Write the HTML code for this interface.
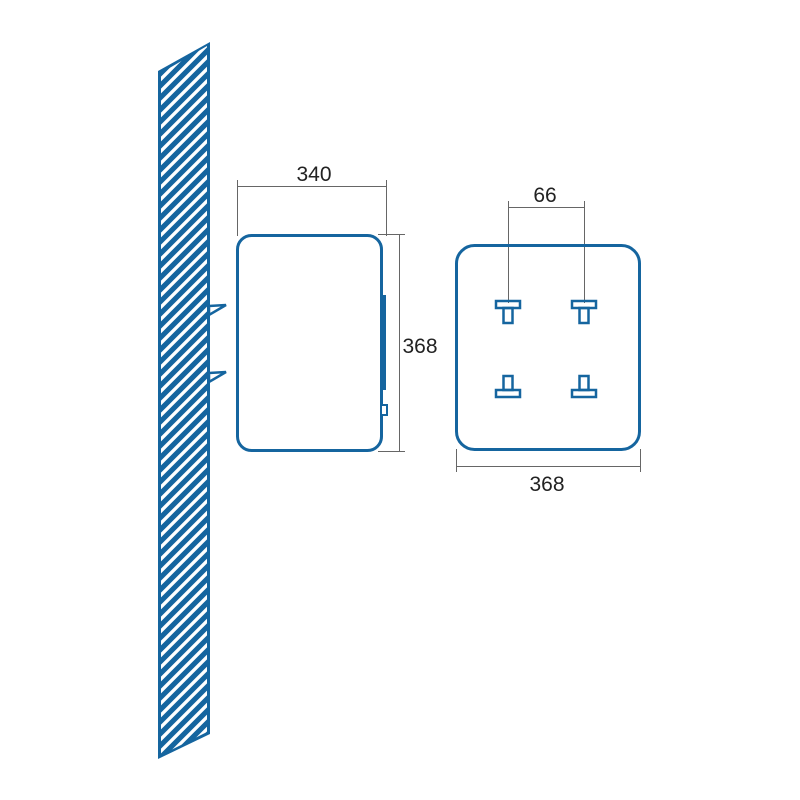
<!DOCTYPE html>
<html><head><style>html,body{margin:0;padding:0;background:#fff;}svg{display:block}</style></head>
<body>
<svg width="800" height="800" viewBox="0 0 800 800" xmlns="http://www.w3.org/2000/svg">
<defs>
<clipPath id="w"><polygon points="161,73 207,46 207,732 161,755"/></clipPath>
</defs>
<polygon points="158,71 210,42 210,734 158,759" fill="#15659f"/>
<g clip-path="url(#w)" stroke="#fff" stroke-width="3.3" fill="none">
<path d="M150,90 l70,-70 M150,102 l70,-70 M150,114 l70,-70 M150,126 l70,-70 M150,138 l70,-70 M150,150 l70,-70 M150,162 l70,-70 M150,174 l70,-70 M150,186 l70,-70 M150,198 l70,-70 M150,210 l70,-70 M150,222 l70,-70 M150,234 l70,-70 M150,246 l70,-70 M150,258 l70,-70 M150,270 l70,-70 M150,282 l70,-70 M150,294 l70,-70 M150,306 l70,-70 M150,318 l70,-70 M150,330 l70,-70 M150,342 l70,-70 M150,354 l70,-70 M150,366 l70,-70 M150,378 l70,-70 M150,390 l70,-70 M150,402 l70,-70 M150,414 l70,-70 M150,426 l70,-70 M150,438 l70,-70 M150,450 l70,-70 M150,462 l70,-70 M150,474 l70,-70 M150,486 l70,-70 M150,498 l70,-70 M150,510 l70,-70 M150,522 l70,-70 M150,534 l70,-70 M150,546 l70,-70 M150,558 l70,-70 M150,570 l70,-70 M150,582 l70,-70 M150,594 l70,-70 M150,606 l70,-70 M150,618 l70,-70 M150,630 l70,-70 M150,642 l70,-70 M150,654 l70,-70 M150,666 l70,-70 M150,678 l70,-70 M150,690 l70,-70 M150,702 l70,-70 M150,714 l70,-70 M150,726 l70,-70 M150,738 l70,-70 M150,750 l70,-70 M150,762 l70,-70 M150,774 l70,-70 M150,786 l70,-70 M150,798 l70,-70 M150,810 l70,-70"/>
</g>
<g fill="#fff" stroke="#15659f" stroke-width="2.5" stroke-linejoin="miter">
<polygon points="209,306 226,305 209,315"/>
<polygon points="209,373 226,372 209,382"/>
</g>
<g stroke="#666" stroke-width="1" fill="none">
<path d="M237.5,180 V236 M386.5,180 V236 M237.5,186.5 H386.5"/>
<path d="M378,234.5 H405 M378,451.5 H405 M399.5,234 V452"/>
<path d="M508.5,201 V303 M584.5,201 V303 M508.5,207.5 H584.5"/>
<path d="M456.5,449 V472 M640.5,449 V472 M456.5,466.5 H640.5"/>
</g>
<rect x="237.5" y="235.5" width="144" height="215" rx="14" fill="none" stroke="#15659f" stroke-width="3"/>
<rect x="382" y="295" width="4" height="95" fill="#15659f"/>
<rect x="381" y="405" width="6" height="10" fill="#fff" stroke="#15659f" stroke-width="2"/>
<rect x="456.5" y="245.5" width="183" height="204" rx="18" fill="none" stroke="#15659f" stroke-width="3"/>
<g fill="none" stroke="#15659f" stroke-width="2.5">
<rect x="496" y="301" width="24" height="7"/><rect x="503.5" y="308" width="9" height="15"/>
<rect x="572" y="301" width="24" height="7"/><rect x="579.5" y="308" width="9" height="15"/>
<rect x="496" y="390" width="24" height="7"/><rect x="503.5" y="376" width="9" height="14"/>
<rect x="572" y="390" width="24" height="7"/><rect x="579.5" y="376" width="9" height="14"/>
</g>
<g font-family="Liberation Sans, sans-serif" font-size="21" fill="#222" text-anchor="middle">
<text x="314" y="181">340</text>
<text x="420" y="353">368</text>
<text x="545" y="202">66</text>
<text x="547" y="491">368</text>
</g>
</svg>
</body></html>
